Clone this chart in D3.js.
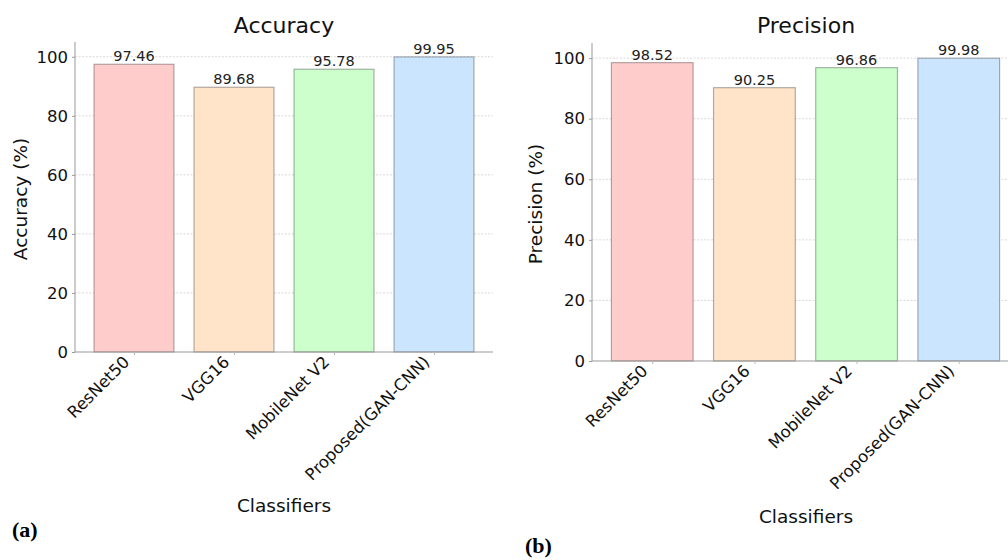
<!DOCTYPE html>
<html>
<head>
<meta charset="utf-8">
<script src="https://cdn.jsdelivr.net/npm/d3@7"></script>
<style>
  body { margin: 0; background: #fff; }
  svg { font-family: "DejaVu Sans", sans-serif; }
</style>
</head>
<body>
<div id="chart"></div>
<script>
var w = 1008;
var h = 560;

// data
var classifiers = ["ResNet50", "VGG16", "MobileNet V2", "Proposed(GAN-CNN)"];
var accuracy = [97.46, 89.68, 95.78, 99.95];
var precision = [98.52, 90.25, 96.86, 99.98];
var yTicks = [0, 20, 40, 60, 80, 100];
var barColors = ["#ffcccc", "#ffe4ca", "#ccffcc", "#cce5ff"];

var svg = d3.select("#chart")
            .append("svg")
            .attr("width", w)
            .attr("height", h);

// one panel per metric
var panels = [
    { values: accuracy, title: "Accuracy", ylabel: "Accuracy (%)", tag: "(a)",
      left: 75, right: 493, bottom: 352, top: 42,
      titleX: 284, ylabelX: 27, xlabelY: 512, tagX: 12, tagY: 537 },
    { values: precision, title: "Precision", ylabel: "Precision (%)", tag: "(b)",
      left: 592, right: 1019, bottom: 361, top: 43,
      titleX: 806, ylabelX: 542, xlabelY: 523, tagX: 525, tagY: 553 }
];

panels.forEach(function(p) {
    var g = svg.append("g");

    // categorical positions like matplotlib: centres at 0..3, margins of 0.59
    var xScale = d3.scaleLinear()
                   .domain([-0.59, classifiers.length - 1 + 0.59])
                   .range([p.left, p.right]);

    var yScale = d3.scaleLinear()
                   .domain([0, 105])
                   .range([p.bottom, p.top]);

    // dashed grid
    g.selectAll(".grid")
     .data(yTicks.slice(1))
     .enter()
     .append("line")
     .attr("x1", p.left)
     .attr("x2", p.right)
     .attr("y1", function(d) { return yScale(d); })
     .attr("y2", function(d) { return yScale(d); })
     .attr("stroke", "#cfcfcf")
     .attr("stroke-width", 0.8)
     .attr("stroke-dasharray", "2,1.5");

    // bars
    g.selectAll("rect")
     .data(p.values)
     .enter()
     .append("rect")
     .attr("x", function(d, i) { return xScale(i - 0.4); })
     .attr("width", xScale(0.8) - xScale(0))
     .attr("y", function(d) { return yScale(d); })
     .attr("height", function(d) { return yScale(0) - yScale(d); })
     .attr("fill", function(d, i) { return barColors[i]; })
     .attr("stroke", "#000")
     .attr("stroke-opacity", 0.3)
     .attr("stroke-width", 1.2);

    // value labels
    g.selectAll(".val")
     .data(p.values)
     .enter()
     .append("text")
     .attr("x", function(d, i) { return xScale(i); })
     .attr("y", function(d) { return yScale(d) - 3; })
     .attr("text-anchor", "middle")
     .style("font-size", "14.5px")
     .attr("fill", "#222")
     .text(function(d) { return d.toFixed(2); });

    // y axis
    var yAxis = g.append("g")
                 .attr("transform", "translate(" + p.left + ",0)")
                 .call(d3.axisLeft(yScale).tickValues(yTicks).tickSize(3).tickPadding(4));
    yAxis.select(".domain").attr("stroke", "#999").attr("d", "M0," + p.top + "V" + p.bottom);
    yAxis.selectAll(".tick line").attr("stroke", "#999");
    yAxis.selectAll(".tick text").style("font-size", "16.5px").attr("fill", "#111")
         .style("font-family", "DejaVu Sans");

    // x axis
    var xAxis = g.append("g")
                 .attr("transform", "translate(0," + p.bottom + ")")
                 .call(d3.axisBottom(xScale).tickValues(d3.range(classifiers.length))
                         .tickSize(3).tickFormat(function(i) { return classifiers[i]; }));
    xAxis.select(".domain").attr("stroke", "#999").attr("d", "M" + p.left + ",0H" + p.right);
    xAxis.selectAll(".tick line").attr("stroke", "#bbb");
    xAxis.selectAll(".tick text")
         .style("font-size", "16.5px")
         .style("font-family", "DejaVu Sans")
         .attr("fill", "#111")
         .attr("text-anchor", "end")
         .attr("y", 0)
         .attr("dy", 0)
         .attr("transform", "translate(-4,11) rotate(-45)");

    // title and axis labels
    g.append("text")
     .attr("x", p.titleX)
     .attr("y", 33)
     .attr("text-anchor", "middle")
     .style("font-size", "22px")
     .attr("fill", "#111")
     .text(p.title);

    g.append("text")
     .attr("transform", "translate(" + p.ylabelX + "," + ((p.top + p.bottom) / 2 + 2) + ") rotate(-90)")
     .attr("text-anchor", "middle")
     .style("font-size", "18.5px")
     .attr("fill", "#111")
     .text(p.ylabel);

    g.append("text")
     .attr("x", p.titleX)
     .attr("y", p.xlabelY)
     .attr("text-anchor", "middle")
     .style("font-size", "18.5px")
     .attr("fill", "#111")
     .text("Classifiers");

    g.append("text")
     .attr("x", p.tagX)
     .attr("y", p.tagY)
     .style("font-family", "'Liberation Serif', serif")
     .style("font-weight", "bold")
     .style("font-size", "22px")
     .attr("fill", "#000")
     .text(p.tag);
});
</script>
</body>
</html>
